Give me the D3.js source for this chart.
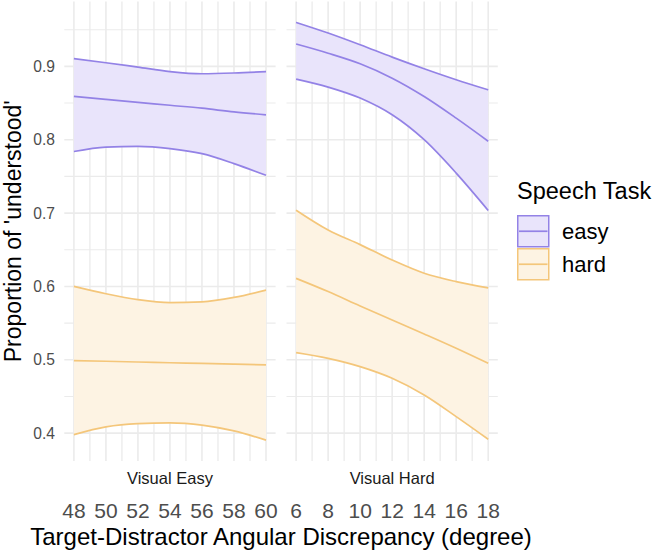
<!DOCTYPE html>
<html>
<head>
<meta charset="utf-8">
<script src="https://cdn.jsdelivr.net/npm/d3@7"></script>
<style>
  body { margin: 0; background: #ffffff; }
  svg { display: block; font-family: "Liberation Sans", Arial, Helvetica, sans-serif; }
</style>
</head>
<body>
<svg id="chart" width="656" height="553"></svg>
<script>
//x values of each facet (angular discrepancy in degrees)
var xVisualEasy = [48, 50, 52, 54, 56, 58, 60];
var xVisualHard = [6, 8, 10, 12, 14, 16, 18];

//Visual Easy facet
var easyVE_mid = [0.859, 0.855, 0.851, 0.847, 0.843, 0.838, 0.834];
var easyVE_lo  = [0.784, 0.790, 0.791, 0.788, 0.781, 0.7675, 0.7515];
var easyVE_hi  = [0.9105, 0.905, 0.899, 0.893, 0.890, 0.891, 0.893];
var hardVE_mid = [0.499, 0.498, 0.497, 0.496, 0.495, 0.494, 0.493];
var hardVE_lo  = [0.398, 0.4086, 0.413, 0.414, 0.411, 0.403, 0.3905];
var hardVE_hi  = [0.600, 0.590, 0.582, 0.578, 0.579, 0.585, 0.595];

//Visual Hard facet
var easyVH_mid = [0.9305, 0.918, 0.9036, 0.884, 0.859, 0.8295, 0.798];
var easyVH_lo  = [0.8827, 0.8718, 0.8568, 0.834, 0.800, 0.7545, 0.7036];
var easyVH_hi  = [0.960, 0.9455, 0.9295, 0.9127, 0.8968, 0.8818, 0.868];
var hardVH_mid = [0.611, 0.593, 0.5734, 0.5543, 0.5352, 0.5157, 0.4952];
var hardVH_lo  = [0.5098, 0.502, 0.4907, 0.4748, 0.452, 0.4225, 0.3916];
var hardVH_hi  = [0.704, 0.677, 0.657, 0.636, 0.618, 0.6066, 0.598];

//labels
var facetNames = ["Visual Easy", "Visual Hard"];
var taskNames = ["easy", "hard"];
var yTicks = [0.4, 0.5, 0.6, 0.7, 0.8, 0.9];

//colours
var lineColor = {easy: "#9382e6", hard: "#f4c67a"};
var fillColor = {easy: "#e9e4fb", hard: "#fdf3e3"};
var gridColor = "#ebebeb";

var svg = d3.select("#chart");

//build a facet list from the arrays
function zipRows(xs, lo, mid, hi) {
	return xs.map(function(x, i) { return {x: x, lo: lo[i], mid: mid[i], hi: hi[i]}; });
}
var facets = [
	{name: facetNames[0], xs: xVisualEasy, x0: 64.3,
		series: {easy: zipRows(xVisualEasy, easyVE_lo, easyVE_mid, easyVE_hi),
				 hard: zipRows(xVisualEasy, hardVE_lo, hardVE_mid, hardVE_hi)}},
	{name: facetNames[1], xs: xVisualHard, x0: 286.5,
		series: {easy: zipRows(xVisualHard, easyVH_lo, easyVH_mid, easyVH_hi),
				 hard: zipRows(xVisualHard, hardVH_lo, hardVH_mid, hardVH_hi)}}
];
var panelW = 211.3;
var panelTop = 1.5, panelBottom = 461;

//shared y scale, ggplot style 5% expansion
var allY = [].concat(easyVE_lo, easyVE_hi, hardVE_lo, hardVE_hi, easyVH_lo, easyVH_hi, hardVH_lo, hardVH_hi);
var yMin = d3.min(allY), yMax = d3.max(allY), yPad = (yMax - yMin) * 0.05;
var y = d3.scaleLinear().domain([yMin - yPad, yMax + yPad]).range([panelBottom, panelTop]);

facets.forEach(function(f) {
	var ext = d3.extent(f.xs), pad = (ext[1] - ext[0]) * 0.05;
	var x = d3.scaleLinear().domain([ext[0] - pad, ext[1] + pad]).range([f.x0, f.x0 + panelW]);
	var g = svg.append("g");

	//grid: minor then major
	var minorX = d3.range(ext[0] + 1, ext[1], 2);
	var minorY = [0.35].concat(yTicks.map(function(t) { return t + 0.05; }))
		.filter(function(t) { return t > y.domain()[0] && t < y.domain()[1]; });
	g.selectAll(".vminor").data(minorX).enter().append("line")
		.attr("x1", x).attr("x2", x).attr("y1", panelTop).attr("y2", panelBottom)
		.attr("stroke", gridColor).attr("stroke-width", 1.3);
	g.selectAll(".hminor").data(minorY).enter().append("line")
		.attr("x1", f.x0).attr("x2", f.x0 + panelW).attr("y1", y).attr("y2", y)
		.attr("stroke", gridColor).attr("stroke-width", 1.1);
	g.selectAll(".vmajor").data(f.xs).enter().append("line")
		.attr("x1", x).attr("x2", x).attr("y1", panelTop).attr("y2", panelBottom)
		.attr("stroke", gridColor).attr("stroke-width", 1.6);
	g.selectAll(".hmajor").data(yTicks).enter().append("line")
		.attr("x1", f.x0).attr("x2", f.x0 + panelW).attr("y1", y).attr("y2", y)
		.attr("stroke", gridColor).attr("stroke-width", 1.6);

	var area = d3.area().curve(d3.curveMonotoneX)
		.x(function(d) { return x(d.x); })
		.y0(function(d) { return y(d.lo); })
		.y1(function(d) { return y(d.hi); });

	taskNames.forEach(function(t) {
		var rows = f.series[t];
		g.append("path").attr("d", area(rows)).attr("fill", fillColor[t]);
		["lo", "mid", "hi"].forEach(function(k) {
			var line = d3.line().curve(d3.curveMonotoneX)
				.x(function(d) { return x(d.x); })
				.y(function(d) { return y(d[k]); });
			g.append("path").attr("d", line(rows))
				.attr("fill", "none").attr("stroke", lineColor[t]).attr("stroke-width", 1.7);
		});
	});

	//strip label below the panel
	g.append("text").attr("x", f.x0 + panelW / 2).attr("y", 484)
		.attr("text-anchor", "middle").attr("font-size", "16.5px").attr("fill", "#1a1a1a")
		.text(f.name);

	//x tick labels
	g.selectAll(".xtick").data(f.xs).enter().append("text")
		.attr("x", x).attr("y", 518)
		.attr("text-anchor", "middle").attr("font-size", "21px").attr("fill", "#4d4d4d")
		.text(function(d) { return d; });
});

//y tick labels
svg.selectAll(".ytick").data(yTicks).enter().append("text")
	.attr("x", 55).attr("y", y).attr("dy", "0.36em")
	.attr("text-anchor", "end").attr("font-size", "15.6px").attr("fill", "#4d4d4d")
	.text(function(d) { return d3.format(".1f")(d); });

//axis titles
svg.append("text")
	.attr("transform", "translate(21," + ((panelTop + panelBottom) / 2) + ") rotate(-90)")
	.attr("text-anchor", "middle").attr("font-size", "23px").attr("fill", "#000")
	.text("Proportion of 'understood'");
svg.append("text").attr("x", (64.3 + 286.5 + panelW) / 2).attr("y", 545)
	.attr("text-anchor", "middle").attr("font-size", "24px").attr("fill", "#000")
	.text("Target-Distractor Angular Discrepancy (degree)");

//legend
var legend = svg.append("g").attr("transform", "translate(517,0)");
legend.append("text").attr("x", 0).attr("y", 199)
	.attr("font-size", "23.5px").attr("fill", "#000").text("Speech Task");
var keySize = 32.5;
taskNames.forEach(function(t, i) {
	var top = 215 + i * (keySize + 0.5);
	legend.append("rect").attr("x", 0.75).attr("y", top + 0.75)
		.attr("width", keySize - 1.5).attr("height", keySize - 1.5)
		.attr("fill", fillColor[t]).attr("stroke", lineColor[t]).attr("stroke-width", 1.5);
	legend.append("line").attr("x1", 2).attr("x2", keySize - 2)
		.attr("y1", top + keySize / 2).attr("y2", top + keySize / 2)
		.attr("stroke", lineColor[t]).attr("stroke-width", 1.7);
	legend.append("text").attr("x", 45).attr("y", top + keySize / 2).attr("dy", "0.35em")
		.attr("font-size", "22px").attr("fill", "#000").text(t);
});
</script>
</body>
</html>
